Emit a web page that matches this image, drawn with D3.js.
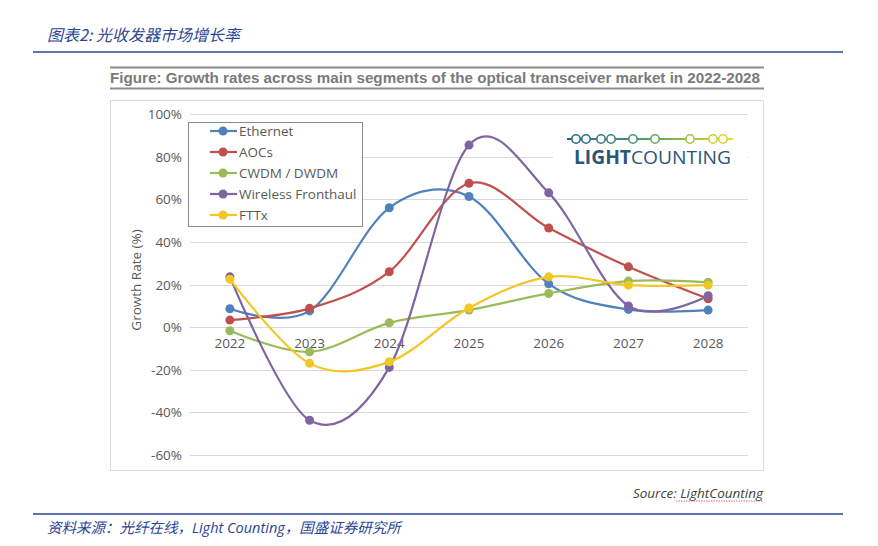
<!DOCTYPE html>
<html><head><meta charset="utf-8">
<script src="https://cdn.jsdelivr.net/npm/d3@7"></script>
<style>body{margin:0;background:#fff;}svg{display:block;}</style>
</head><body>
<svg id="c" width="878" height="546"></svg>
<script>
const years = ["2022","2023","2024","2025","2026","2027","2028"];
const seriesNames = ["Ethernet","AOCs","CWDM / DWDM","Wireless Fronthaul","FTTx"];
const seriesColors = ["#4f81bd","#c0504d","#9bbb59","#8064a2","#f2c624"];
const ethernet = [8.6, 7.6, 56, 61.3, 20.3, 8.3, 8];
const aocs = [3.3, 8.8, 26, 67.5, 46.5, 28.3, 13.3];
const cwdm = [-1.7, -11.6, 2, 8, 15.8, 21.6, 21];
const wireless = [23.6, -43.7, -18.9, 85.4, 63, 9.9, 14.7];
const fttx = [22.5, -17, -16.3, 9, 23.6, 19.7, 19.7];
const yTicks = [100, 80, 60, 40, 20, 0, -20, -40, -60];
const seriesValues = [ethernet, aocs, cwdm, wireless, fttx];

const svg = d3.select("#c");
const blue = "#2b4594";

// header
svg.append("text").attr("x",47).attr("y",41).attr("font-family","'Noto Sans CJK SC'")
  .attr("font-size",16).attr("font-style","italic").attr("fill",blue).text("图表2:  光收发器市场增长率");
svg.append("line").attr("x1",33).attr("x2",843).attr("y1",52).attr("y2",52).attr("stroke",blue).attr("stroke-width",1.5);

// figure title bar
svg.append("line").attr("x1",110).attr("x2",764).attr("y1",67.5).attr("y2",67.5).attr("stroke","#8c8c8c").attr("stroke-width",2);
svg.append("line").attr("x1",110).attr("x2",764).attr("y1",88.5).attr("y2",88.5).attr("stroke","#8c8c8c").attr("stroke-width",2);
svg.append("text").attr("x",110).attr("y",83).attr("font-family","'Liberation Sans', Arial").attr("font-weight","bold")
  .attr("font-size",15).attr("fill","#7a7a7a").attr("textLength",650).attr("lengthAdjust","spacingAndGlyphs")
  .text("Figure: Growth rates across main segments of the optical transceiver market in 2022-2028");

// chart box
svg.append("rect").attr("x",110.5).attr("y",100.5).attr("width",653).attr("height",370).attr("fill","#fff").attr("stroke","#dcdcdc");

const x = d3.scaleBand().domain(years).range([190,748]);
const y = d3.scaleLinear().domain([-60,100]).range([455,114]);
const font = "'Open Sans', 'Noto Sans', sans-serif";

// gridlines
svg.append("g").selectAll("line").data(yTicks).join("line")
  .attr("x1",190).attr("x2",748).attr("y1",d=>Math.round(y(d))+0.5).attr("y2",d=>Math.round(y(d))+0.5)
  .attr("stroke","#d9d9d9").attr("stroke-width",1.2);

// y axis labels
svg.append("g").selectAll("text").data(yTicks).join("text")
  .attr("x",182).attr("y",d=>y(d)+5).attr("text-anchor","end").attr("font-family",font).attr("font-size",13.5)
  .attr("fill","#595959").text(d=>d+"%");
// x labels
svg.append("g").selectAll("text").data(years).join("text")
  .attr("x",d=>x(d)+x.bandwidth()/2).attr("y",y(0)+21).attr("text-anchor","middle").attr("font-family",font)
  .attr("font-size",13.5).attr("fill","#595959").text(d=>d);
// y title
svg.append("text").attr("transform","translate(141,280) rotate(-90)").attr("text-anchor","middle")
  .attr("font-family",font).attr("font-size",13.5).attr("fill","#595959").text("Growth Rate (%)");

// logo
const logo = svg.append("g");
logo.append("rect").attr("x",553).attr("y",121).attr("width",194).attr("height",52).attr("fill","#fff");
const grad = svg.append("defs").append("linearGradient").attr("id","lg").attr("x1","0%").attr("x2","100%");
grad.append("stop").attr("offset","0%").attr("stop-color","#22628e");
grad.append("stop").attr("offset","45%").attr("stop-color","#4f9a6a");
grad.append("stop").attr("offset","75%").attr("stop-color","#9fc43f");
grad.append("stop").attr("offset","100%").attr("stop-color","#e6dc2c");
logo.append("rect").attr("x",567).attr("y",138).attr("width",166).attr("height",2).attr("fill","url(#lg)");
const circX = [576,586,601,611,633,655,690,713,723];
const cScale = d3.scaleLinear().domain([567,640,690,733]).range(["#22628e","#4f9a6a","#9fc43f","#e6dc2c"]);
logo.selectAll("circle").data(circX).join("circle").attr("cx",d=>d).attr("cy",139).attr("r",4.2)
  .attr("fill","#fff").attr("stroke",d=>cScale(d)).attr("stroke-width",1.6);
const lt = logo.append("text").attr("x",574).attr("y",164).attr("font-family","'Open Sans', sans-serif").attr("font-size",19)
  .attr("fill","#2c5578").attr("textLength",157).attr("lengthAdjust","spacingAndGlyphs");
lt.append("tspan").attr("font-weight","bold").text("LIGHT");
lt.append("tspan").text("COUNTING");

// series
const line = d3.line().x((d,i)=>x(years[i])+x.bandwidth()/2).y(d=>y(d)).curve(d3.curveCatmullRom.alpha(0));
seriesValues.forEach((vals,si)=>{
  const g = svg.append("g");
  g.append("path").attr("d",line(vals)).attr("fill","none").attr("stroke",seriesColors[si]).attr("stroke-width",2.2);
  g.selectAll("circle").data(vals).join("circle")
    .attr("cx",(d,i)=>x(years[i])+x.bandwidth()/2).attr("cy",d=>y(d)).attr("r",4.5).attr("fill",seriesColors[si]);
});

// legend
const lg = svg.append("g");
lg.append("rect").attr("x",188.5).attr("y",122.5).attr("width",174).attr("height",104).attr("fill","#fff").attr("stroke","#8a8a8a");
seriesNames.forEach((n,i)=>{
  const yy = 131 + i*21;
  lg.append("line").attr("x1",210).attr("x2",237).attr("y1",yy).attr("y2",yy).attr("stroke",seriesColors[i]).attr("stroke-width",2.2);
  lg.append("circle").attr("cx",223).attr("cy",yy).attr("r",4.5).attr("fill",seriesColors[i]);
  lg.append("text").attr("x",239).attr("y",yy+5).attr("font-family",font).attr("font-size",13.5).attr("fill","#595959").text(n);
});

// source
svg.append("text").attr("x",763).attr("y",498).attr("text-anchor","end").attr("font-family","'Open Sans', sans-serif")
  .attr("font-style","italic").attr("font-size",13.5).attr("fill","#404040").text("Source: LightCounting");
svg.append("line").attr("x1",676).attr("x2",763).attr("y1",501).attr("y2",501).attr("stroke","#d04848").attr("stroke-width",0.8).attr("stroke-dasharray","1.5,1");

// footer
svg.append("line").attr("x1",33).attr("x2",843).attr("y1",514).attr("y2",514).attr("stroke",blue).attr("stroke-width",1.5);
const ft = svg.append("text").attr("x",47).attr("y",533).attr("font-family","'Noto Sans CJK SC'").attr("font-size",14.5)
  .attr("font-style","italic").attr("fill",blue);
ft.append("tspan").text("资料来源：光纤在线，");
ft.append("tspan").attr("font-family","'Open Sans', sans-serif").text("Light Counting");
ft.append("tspan").text("，国盛证券研究所");
</script>
</body></html>
